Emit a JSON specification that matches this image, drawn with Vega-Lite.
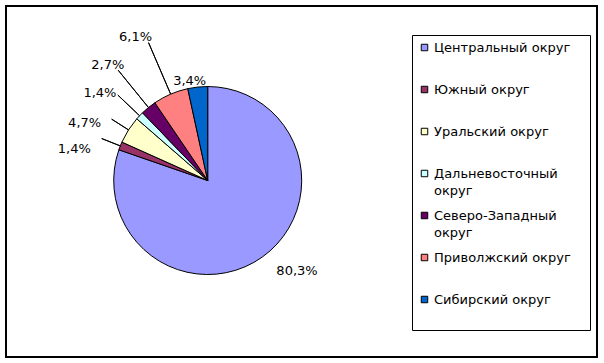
{
  "$schema": "https://vega.github.io/schema/vega-lite/v6.json",
  "width": 591,
  "height": 351,
  "autosize": {"type": "none"},
  "padding": {"left": 6, "top": 6, "right": 7, "bottom": 6},
  "background": "white",
  "config": {
    "view": {"stroke": "black", "strokeWidth": 2},
    "font": "DejaVu Sans",
    "style": {"guide-label": {"lineHeight": 17, "dy": -6}},
    "legend": {
      "orient": "none",
      "legendX": 406,
      "legendY": 29,
      "strokeColor": "black",
      "strokeWidth": 1,
      "padding": 6,
      "symbolType": "square",
      "symbolSize": 42,
      "symbolStrokeColor": "black",
      "symbolStrokeWidth": 1,
      "labelFontSize": 13,
      "labelColor": "black",
      "labelFont": "DejaVu Sans",
      "labelBaseline": "top",
      "labelLimit": 400,
      "labelOffset": 3,
      "rowPadding": 11,
      "titleOrient": "right",
      "titlePadding": 13,
      "titleFontSize": 13
    }
  },
  "data": {
    "values": [
      {"idx": 1, "region": "Центральный округ", "pct": 80.3, "label": "80,3%"},
      {"idx": 2, "region": "Южный округ", "pct": 1.4, "label": "1,4%"},
      {"idx": 3, "region": "Уральский округ", "pct": 4.7, "label": "4,7%"},
      {"idx": 4, "region": "Дальневосточный округ", "pct": 1.4, "label": "1,4%"},
      {"idx": 5, "region": "Северо-Западный округ", "pct": 2.7, "label": "2,7%"},
      {"idx": 6, "region": "Приволжский округ", "pct": 6.1, "label": "6,1%"},
      {"idx": 7, "region": "Сибирский округ", "pct": 3.4, "label": "3,4%"}
    ]
  },
  "encoding": {
    "theta": {"field": "pct", "type": "quantitative", "stack": true},
    "order": {"field": "idx", "type": "quantitative"},
    "x": {"datum": 0.3413, "type": "quantitative", "scale": {"domain": [0, 1]}, "axis": null},
    "y": {"datum": 0.5028, "type": "quantitative", "scale": {"domain": [0, 1]}, "axis": null}
  },
  "layer": [
    {
      "mark": {"type": "arc", "outerRadius": 94, "stroke": "black", "strokeWidth": 1},
      "encoding": {
        "color": {
          "field": "region",
          "type": "nominal",
          "scale": {
            "domain": ["Центральный округ", "Южный округ", "Уральский округ", "Дальневосточный округ", "Северо-Западный округ", "Приволжский округ", "Сибирский округ"],
            "range": ["#9999FF", "#993366", "#FFFFCC", "#CCFFFF", "#660066", "#FF8080", "#0066CC"]
          },
          "legend": {
            "title": " ",
            "labelExpr": "datum.label == 'Дальневосточный округ' ? ['Дальневосточный', 'округ'] : datum.label == 'Северо-Западный округ' ? ['Северо-Западный', 'округ'] : [datum.label, '']"
          }
        }
      }
    },
    {
      "mark": {
        "type": "arc",
        "innerRadius": 94,
        "outerRadius": {"expr": "datum.idx == 2 ? 114 : datum.idx == 3 ? 114 : datum.idx == 4 ? 124 : datum.idx == 5 ? 142 : datum.idx == 6 ? 150 : 95"},
        "padAngle": 1.2,
        "fill": null,
        "filled": false,
        "stroke": "black",
        "strokeWidth": 1,
        "strokeOpacity": {"expr": "datum.idx == 1 || datum.idx == 7 ? 0 : 1"}
      }
    },
    {
      "mark": {
        "type": "text",
        "fontSize": 13,
        "font": "DejaVu Sans",
        "color": "black",
        "radius": {"expr": "datum.idx == 2 ? 137 : datum.idx == 3 ? 136 : datum.idx == 4 ? 139 : datum.idx == 5 ? 153 : datum.idx == 6 ? 161 : datum.idx == 7 ? 101 : 127"},
        "thetaOffset": {"expr": "datum.idx == 2 ? -0.148 : datum.idx == 3 ? -0.129 : datum.idx == 4 ? -0.077 : datum.idx == 5 ? -0.03 : datum.idx == 6 ? -0.059 : datum.idx == 7 ? -0.073 : -0.161"}
      },
      "encoding": {
        "text": {"field": "label", "type": "nominal"}
      }
    }
  ]
}
